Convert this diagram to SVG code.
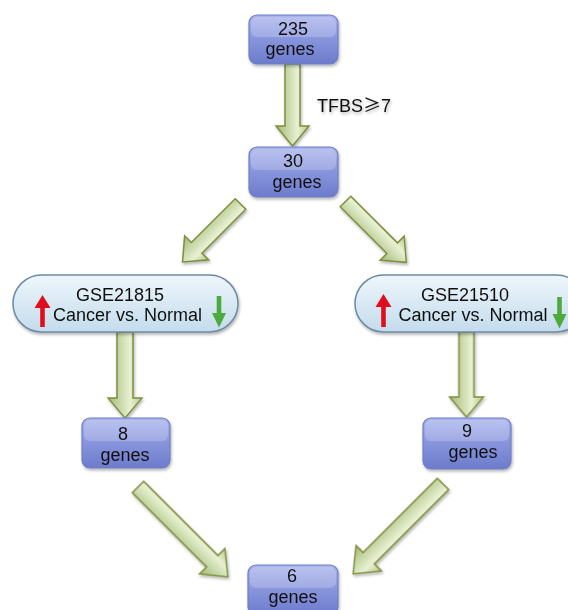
<svg xmlns="http://www.w3.org/2000/svg" width="568" height="610" viewBox="0 0 568 610">
<style>
.box{fill:url(#boxGrad);stroke:#6f7ec6;stroke-width:1.2}
.gloss{fill:#ffffff;opacity:0.2}
.pill{fill:url(#pillGrad);stroke:#6d8aa6;stroke-width:1.5}
.arr{fill:url(#arrGrad);stroke:#7d8f3e;stroke-width:1.5;stroke-linejoin:miter}
.t{font-family:"Liberation Sans",Arial,sans-serif;font-size:18px;fill:#111;text-anchor:middle}
.up{fill:#e0101c}
.down{fill:#4eaa3c}
</style>
<defs>
<linearGradient id="boxGrad" x1="0" y1="0" x2="0" y2="1">
<stop offset="0" stop-color="#aab4ec"/>
<stop offset="0.45" stop-color="#8a97de"/>
<stop offset="1" stop-color="#6c7bcb"/>
</linearGradient>
<linearGradient id="pillGrad" x1="0" y1="0" x2="0" y2="1">
<stop offset="0" stop-color="#eef6fb"/>
<stop offset="1" stop-color="#c4dced"/>
</linearGradient>
<linearGradient id="arrGrad" x1="0" y1="0" x2="0" y2="1">
<stop offset="0" stop-color="#b4c98a"/>
<stop offset="0.35" stop-color="#e8f0d2"/>
<stop offset="1" stop-color="#a2ba76"/>
</linearGradient>
<filter id="sh" x="-20%" y="-20%" width="140%" height="140%">
<feGaussianBlur in="SourceAlpha" stdDeviation="1.5"/>
<feOffset dx="1" dy="2" result="b"/>
<feComponentTransfer><feFuncA type="linear" slope="0.3"/></feComponentTransfer>
<feMerge><feMergeNode/><feMergeNode in="SourceGraphic"/></feMerge>
</filter>
</defs>
<rect width="568" height="610" fill="#ffffff"/>

<g id="connectors" filter="url(#sh)">
<path class="arr" transform="translate(292.5,64) rotate(90)" d="M0,-7.5 L62,-7.5 L62,-16.5 L82,0 L62,16.5 L62,7.5 L0,7.5 Z"/>
<path class="arr" transform="translate(240.5,204) rotate(135)" d="M0,-7.5 L62,-7.5 L62,-17 L82,0 L62,17 L62,7.5 L0,7.5 Z"/>
<path class="arr" transform="translate(345.5,201.5) rotate(45)" d="M0,-7.5 L66,-7.5 L66,-17 L86,0 L66,17 L66,7.5 L0,7.5 Z"/>
<path class="arr" transform="translate(125,332) rotate(90)" d="M0,-8 L66,-8 L66,-17 L86,0 L66,17 L66,8 L0,8 Z"/>
<path class="arr" transform="translate(466.5,332) rotate(90)" d="M0,-7.5 L65,-7.5 L65,-17 L85,0 L65,17 L65,7.5 L0,7.5 Z"/>
<path class="arr" transform="translate(138,487) rotate(45)" d="M0,-8 L105,-8 L105,-18 L127,0 L105,18 L105,8 L0,8 Z"/>
<path class="arr" transform="translate(443,484) rotate(135)" d="M0,-8 L105,-8 L105,-18 L127,0 L105,18 L105,8 L0,8 Z"/>
<text class="t" x="317" y="112" style="text-anchor:start">TFBS<tspan style="font-family:'Noto Sans CJK SC',sans-serif">≥</tspan>7</text>
</g>

<g id="n235" filter="url(#sh)">
<rect class="box" x="249" y="15" width="89" height="49" rx="8"/>
<rect class="gloss" x="251" y="17" width="85" height="20" rx="6"/>
<text class="t" x="293" y="35">235</text>
<text class="t" x="290" y="55">genes</text>
</g>

<g id="n30" filter="url(#sh)">
<rect class="box" x="249" y="147" width="89" height="50" rx="8"/>
<rect class="gloss" x="251" y="149" width="85" height="21" rx="6"/>
<text class="t" x="293" y="167">30</text>
<text class="t" x="297" y="188">genes</text>
</g>

<g id="gse21815" filter="url(#sh)">
<rect class="pill" x="13" y="275" width="225" height="57" rx="28.5"/>
<path class="up" d="M42.5,295 L50.5,308 L44.8,308 L44.8,327 L40.2,327 L40.2,308 L34.5,308 Z"/>
<path class="down" d="M219,327.5 L226,313 L221.3,313 L221.3,296 L216.7,296 L216.7,313 L212,313 Z"/>
<text class="t" x="120" y="301">GSE21815</text>
<text class="t" x="127.5" y="321">Cancer vs. Normal</text>
</g>

<g id="gse21510" filter="url(#sh)">
<rect class="pill" x="355" y="275" width="230" height="57" rx="28.5"/>
<path class="up" d="M383.5,294 L391.5,307 L385.8,307 L385.8,327 L381.2,327 L381.2,307 L375.5,307 Z"/>
<path class="down" d="M559.5,328.5 L566.5,314 L561.8,314 L561.8,297 L557.2,297 L557.2,314 L552.5,314 Z"/>
<text class="t" x="465" y="301">GSE21510</text>
<text class="t" x="473" y="321">Cancer vs. Normal</text>
</g>

<g id="n8" filter="url(#sh)">
<rect class="box" x="82" y="418" width="88" height="50" rx="8"/>
<rect class="gloss" x="84" y="420" width="84" height="21" rx="6"/>
<text class="t" x="123" y="440">8</text>
<text class="t" x="125" y="461">genes</text>
</g>

<g id="n9" filter="url(#sh)">
<rect class="box" x="423" y="418" width="88" height="51" rx="8"/>
<rect class="gloss" x="425" y="420" width="84" height="21" rx="6"/>
<text class="t" x="467" y="437">9</text>
<text class="t" x="473" y="458">genes</text>
</g>

<g id="n6" filter="url(#sh)">
<rect class="box" x="248" y="565" width="90" height="50" rx="8"/>
<rect class="gloss" x="250" y="567" width="86" height="21" rx="6"/>
<text class="t" x="292" y="582">6</text>
<text class="t" x="293" y="603">genes</text>
</g>
</svg>
